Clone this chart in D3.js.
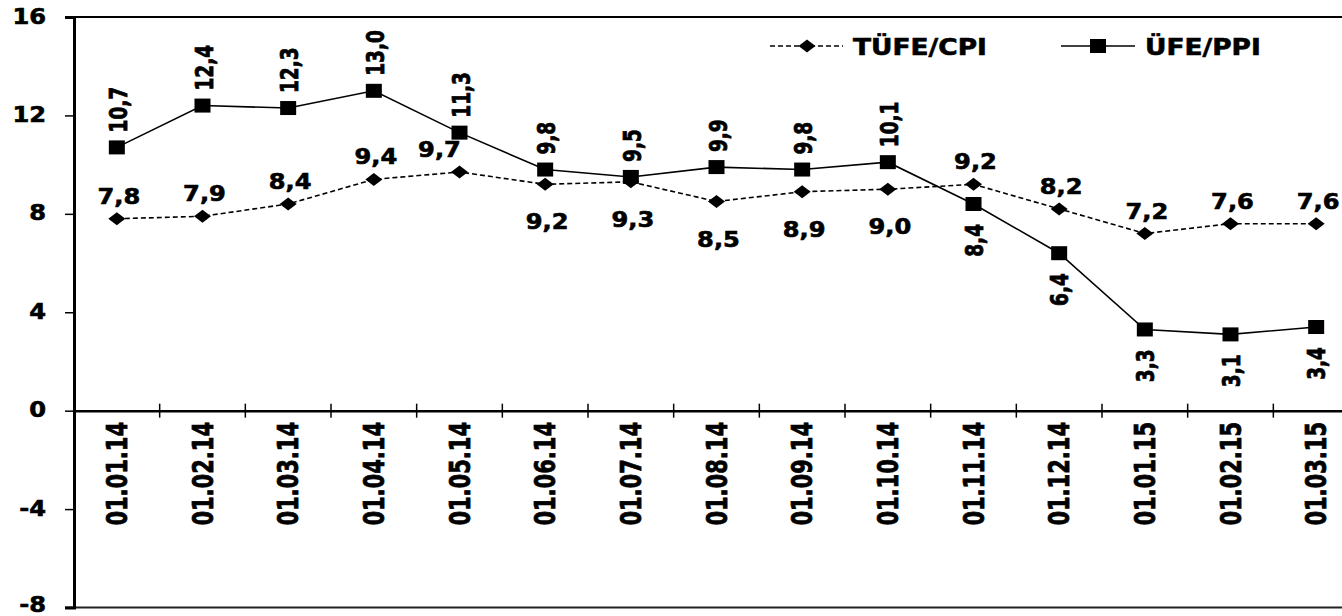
<!DOCTYPE html>
<html>
<head>
<meta charset="utf-8">
<script src="https://cdn.jsdelivr.net/npm/d3@7"></script>
<style>
  html, body { margin: 0; padding: 0; background: #fff; }
  svg { display: block; }
  text { font-family: Verdana, 'DejaVu Sans', sans-serif; font-weight: bold; fill: #000; stroke: #000; stroke-width: 0.6px; }
</style>
</head>
<body>
<div id="chart"></div>
<script>
const categories = ['01.01.14', '01.02.14', '01.03.14', '01.04.14', '01.05.14', '01.06.14', '01.07.14', '01.08.14',
  '01.09.14', '01.10.14', '01.11.14', '01.12.14', '01.01.15', '01.02.15', '01.03.15']
const cpi = [7.8, 7.9, 8.4, 9.4, 9.7, 9.2, 9.3, 8.5, 8.9, 9.0, 9.2, 8.2, 7.2, 7.6, 7.6]
const ppi = [10.7, 12.4, 12.3, 13.0, 11.3, 9.8, 9.5, 9.9, 9.8, 10.1, 8.4, 6.4, 3.3, 3.1, 3.4]
const yTicks = [-8, -4, 0, 4, 8, 12, 16]
const seriesNames = ['TÜFE/CPI', 'ÜFE/PPI']

// which labels sit under their point
const cpiBelow = ['01.06.14', '01.07.14', '01.08.14', '01.09.14', '01.10.14']
const ppiBelow = ['01.11.14', '01.12.14', '01.01.15', '01.02.15', '01.03.15']

const fmt = (v) => v.toFixed(1).replace('.', ',')

const width = 1342
const height = 616
const plot = { left: 74, top: 17, bottom: 607.5, right: 1359 }

const svg = d3.select('#chart').append('svg')
  .attr('width', width)
  .attr('height', height)

const x = d3.scaleBand()
  .domain(categories)
  .range([plot.left, plot.right])
  .padding(0)

const cx = (c) => x(c) + x.bandwidth() / 2

const y = d3.scaleLinear()
  .domain([-8, 16])
  .range([plot.bottom, plot.top])

// horizontal text, slightly widened like the source
const hText = (g, tx, ty, str, size, anchor) =>
  g.append('text')
    .attr('transform', `translate(${tx},${ty}) scale(1.15,1)`)
    .attr('text-anchor', anchor || 'middle')
    .style('font-size', size + 'px')
    .text(str)

// rotated text reading upwards
const vText = (g, tx, ty, str, size, anchor) =>
  g.append('text')
    .attr('transform', `translate(${tx},${ty}) rotate(-90) scale(1,1.35)`)
    .attr('text-anchor', anchor)
    .attr('dy', '0.36em')
    .style('font-size', size + 'px')
    .text(str)

// plot frame: top and bottom edges
svg.append('line')
  .attr('x1', 65).attr('x2', width)
  .attr('y1', y(16)).attr('y2', y(16))
  .attr('stroke', '#000').attr('stroke-width', 2)
svg.append('line')
  .attr('x1', 65).attr('x2', width)
  .attr('y1', y(-8)).attr('y2', y(-8))
  .attr('stroke', '#222').attr('stroke-width', 2)

// y axis
const yAxis = d3.axisLeft(y).tickValues(yTicks).tickSize(9).tickFormat('')
const yg = svg.append('g')
  .attr('transform', `translate(${plot.left},0)`)
  .call(yAxis)
yg.select('.domain').attr('stroke', '#000').attr('stroke-width', 3)
yg.selectAll('.tick line').attr('stroke', '#000').attr('stroke-width', 1.5)
yTicks.forEach((t) => hText(svg, 46, Math.min(y(t) + 6.5, 612), t, 21, 'end'))

// x axis at zero
const xg = svg.append('g')
  .attr('transform', `translate(0,${y(0)})`)
  .call(d3.axisBottom(x).tickSize(0).tickFormat(''))
xg.select('.domain').attr('stroke', '#000').attr('stroke-width', 2.5)
svg.append('g')
  .selectAll('line')
  .data(categories.slice(1))
  .join('line')
  .attr('x1', (d) => x(d)).attr('x2', (d) => x(d))
  .attr('y1', y(0) - 7).attr('y2', y(0) + 7)
  .attr('stroke', '#000').attr('stroke-width', 1.5)
categories.forEach((c) => vText(svg, cx(c), 422, c, 21, 'end'))

// lines
const lineGen = (vals) => d3.line()
  .x((d, i) => cx(categories[i]))
  .y((d) => y(d))(vals)

svg.append('path')
  .attr('d', lineGen(cpi))
  .attr('fill', 'none')
  .attr('stroke', '#000')
  .attr('stroke-width', 1.6)
  .attr('stroke-dasharray', '5,3')

svg.append('path')
  .attr('d', lineGen(ppi))
  .attr('fill', 'none')
  .attr('stroke', '#000')
  .attr('stroke-width', 1.6)

const diamond = (px, py) => `M${px - 8.5},${py}L${px},${py - 6.5}L${px + 8.5},${py}L${px},${py + 6.5}Z`

svg.append('g')
  .selectAll('path')
  .data(cpi)
  .join('path')
  .attr('d', (d, i) => diamond(cx(categories[i]), y(d)))
  .attr('fill', '#000')

svg.append('g')
  .selectAll('rect')
  .data(ppi)
  .join('rect')
  .attr('x', (d, i) => cx(categories[i]) - 8)
  .attr('y', (d) => y(d) - 7)
  .attr('width', 16)
  .attr('height', 14)
  .attr('fill', '#000')

// value labels
const labels = svg.append('g')
cpi.forEach((v, i) => {
  const c = categories[i]
  const below = cpiBelow.includes(c)
  // nudge a label left when the rotated ÜFE label of the same month sits right above it
  const crowded = !below && !ppiBelow.includes(c) && Math.abs(ppi[i] - v) < 2
  hText(labels, cx(c) + (crowded ? -20 : 2), below ? y(v) + 45 : y(v) - 15, fmt(v), 21)
})
ppi.forEach((v, i) => {
  const c = categories[i]
  const below = ppiBelow.includes(c)
  if (below) vText(labels, cx(c), y(v) + 20, fmt(v), 18.5, 'end')
  else vText(labels, cx(c) + 1, y(v) - 15, fmt(v), 18.5, 'start')
})

// legend
const lg = svg.append('g')
lg.append('line')
  .attr('x1', 770).attr('x2', 843).attr('y1', 46).attr('y2', 46)
  .attr('stroke', '#000').attr('stroke-width', 1.6).attr('stroke-dasharray', '5,3')
lg.append('path').attr('d', diamond(807, 46)).attr('fill', '#000')
hText(lg, 853, 54.5, seriesNames[0], 23, 'start')

lg.append('line')
  .attr('x1', 1061).attr('x2', 1135).attr('y1', 46).attr('y2', 46)
  .attr('stroke', '#000').attr('stroke-width', 1.6)
lg.append('rect').attr('x', 1090).attr('y', 39).attr('width', 16).attr('height', 14).attr('fill', '#000')
hText(lg, 1145, 54.5, seriesNames[1], 23, 'start')
</script>
</body>
</html>
